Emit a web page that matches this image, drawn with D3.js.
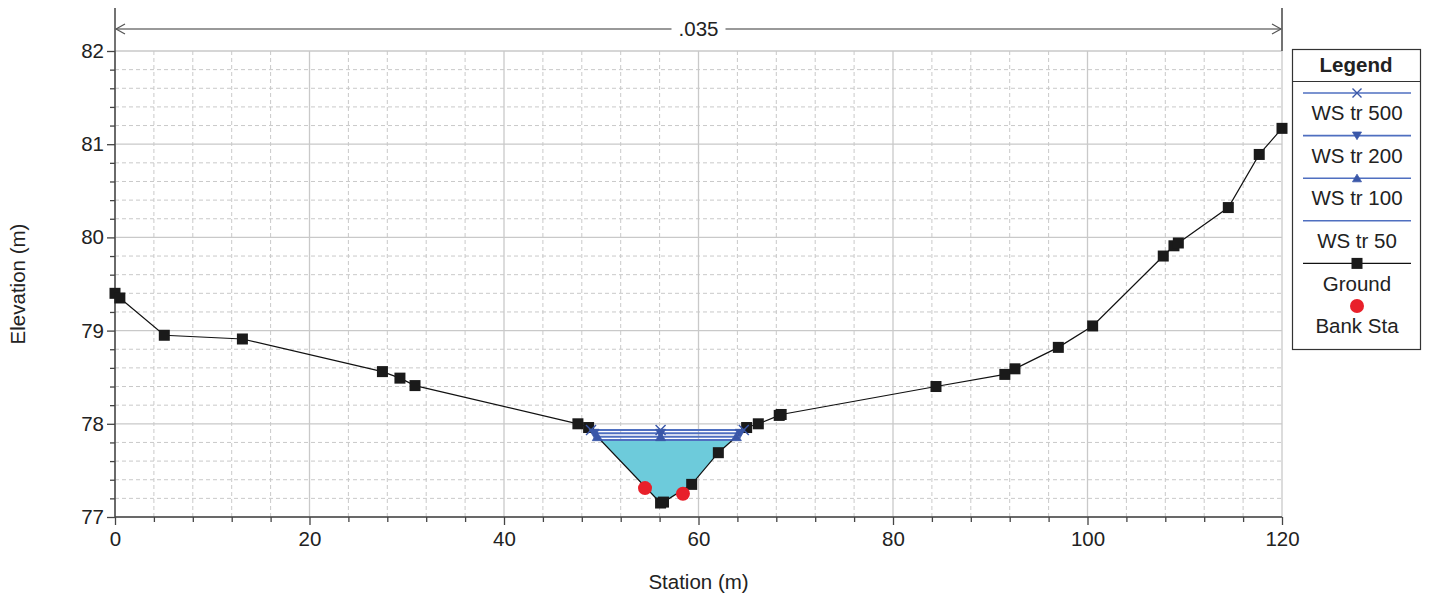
<!DOCTYPE html>
<html><head><meta charset="utf-8">
<script src="https://cdn.jsdelivr.net/npm/d3@7"></script>
<style>body{margin:0;background:#fff} text{font-family:"Liberation Sans",Arial,sans-serif;fill:#222}</style>
</head><body><svg id="c" width="1429" height="596"></svg>
<script>
const groundStation   = [0, 0.5, 5.07, 13.1, 27.5, 29.3, 30.85, 47.6, 48.7, 56.1, 56.4, 59.3, 62.04, 64.95, 66.15, 68.3, 68.5, 84.42, 91.5, 92.54, 97.0, 100.53, 107.79, 108.89, 109.34, 114.48, 117.66, 120];
const groundElevation = [79.40, 79.35, 78.95, 78.91, 78.56, 78.49, 78.41, 78.00, 77.96, 77.15, 77.16, 77.35, 77.69, 77.96, 78.00, 78.09, 78.10, 78.40, 78.53, 78.59, 78.82, 79.05, 79.80, 79.91, 79.94, 80.32, 80.89, 81.17];
const wsProfiles  = ["WS tr 500", "WS tr 200", "WS tr 100", "WS tr 50"];
const wsElevation = [77.933, 77.898, 77.862, 77.826];
const wsMarker    = ["x", "down", "up", "none"];
const bankStation   = [54.5, 58.4];
const bankElevation = [77.31, 77.25];
const xTicks = [0, 20, 40, 60, 80, 100, 120];
const yTicks = [77, 78, 79, 80, 81, 82];
const manningLabel = [".035"];
const legendLabels = ["WS tr 500", "WS tr 200", "WS tr 100", "WS tr 50", "Ground", "Bank Sta"];

const FONT = 20.5;
const svg = d3.select("#c");
const x = d3.scaleLinear([0, 120], [115, 1282]);
const y = d3.scaleLinear([77, 82], [517, 51]);
const gridCol = "#c9c9c9";
const blue = "#4f6fc0", blueDark = "#3a57a8";

// grid
const g = svg.append("g");
const xMinor = d3.range(0, 120.01, 4).filter(v => v % 20 !== 0);
const yMinor = d3.range(77, 82.001, 0.2).map(v => +v.toFixed(1)).filter(v => Math.abs(v - Math.round(v)) > 1e-6);
g.selectAll(".xm").data(xMinor).join("line").attr("x1", d => x(d)).attr("x2", d => x(d)).attr("y1", y(77)).attr("y2", y(82))
  .attr("stroke", gridCol).attr("stroke-dasharray", "4,3");
g.selectAll(".ym").data(yMinor).join("line").attr("y1", d => y(d)).attr("y2", d => y(d)).attr("x1", x(0)).attr("x2", x(120))
  .attr("stroke", gridCol).attr("stroke-dasharray", "4,3");
g.selectAll(".xM").data(xTicks).join("line").attr("x1", d => x(d)).attr("x2", d => x(d)).attr("y1", y(77)).attr("y2", y(82))
  .attr("stroke", gridCol).attr("stroke-width", 1.3);
g.selectAll(".yM").data(yTicks).join("line").attr("y1", d => y(d)).attr("y2", d => y(d)).attr("x1", x(0)).attr("x2", x(120))
  .attr("stroke", gridCol).attr("stroke-width", 1.3);

// axes
function styleAxis(sel) {
  sel.selectAll("path.domain").remove();
  sel.selectAll("line").attr("stroke", "#444").attr("stroke-width", 1.3);
  sel.selectAll("text").style("font-size", FONT + "px").attr("fill", "#222");
}
const ax = svg.append("g").attr("transform", `translate(0,${y(77)})`)
  .call(d3.axisBottom(x).tickValues(xTicks).tickSize(8).tickPadding(6).tickFormat(d3.format("d")));
styleAxis(ax);
const axm = svg.append("g").attr("transform", `translate(0,${y(77)})`)
  .call(d3.axisBottom(x).tickValues(xMinor).tickSize(5).tickFormat(""));
styleAxis(axm);
const ay = svg.append("g").attr("transform", `translate(${x(0)},0)`)
  .call(d3.axisLeft(y).tickValues(yTicks).tickSize(8).tickPadding(3).tickFormat(d3.format("d")));
styleAxis(ay);
const aym = svg.append("g").attr("transform", `translate(${x(0)},0)`)
  .call(d3.axisLeft(y).tickValues(yMinor).tickSize(5).tickFormat(""));
styleAxis(aym);
svg.append("line").attr("x1", x(0)).attr("x2", x(0)).attr("y1", 8).attr("y2", y(77)).attr("stroke", "#444").attr("stroke-width", 1.5);
svg.append("line").attr("x1", x(0)).attr("x2", x(120)).attr("y1", y(77)).attr("y2", y(77)).attr("stroke", "#444").attr("stroke-width", 1.5);
svg.append("line").attr("x1", x(120)).attr("x2", x(120)).attr("y1", 8).attr("y2", y(82)).attr("stroke", "#444").attr("stroke-width", 1.5);

// manning's n arrow
const ay0 = 29, cx = (x(0) + x(120)) / 2;
svg.append("line").attr("x1", x(0)).attr("x2", cx - 27).attr("y1", ay0).attr("y2", ay0).attr("stroke", "#777").attr("stroke-width", 1.3);
svg.append("line").attr("x1", cx + 27).attr("x2", x(120)).attr("y1", ay0).attr("y2", ay0).attr("stroke", "#777").attr("stroke-width", 1.3);
svg.append("path").attr("d", `M${x(0) + 10},${ay0 - 5}L${x(0) + 1},${ay0}L${x(0) + 10},${ay0 + 5}`).attr("fill", "none").attr("stroke", "#555").attr("stroke-width", 1.2);
svg.append("path").attr("d", `M${x(120) - 10},${ay0 - 5}L${x(120) - 1},${ay0}L${x(120) - 10},${ay0 + 5}`).attr("fill", "none").attr("stroke", "#555").attr("stroke-width", 1.2);
svg.append("text").attr("x", cx).attr("y", ay0).attr("dy", "0.35em").attr("text-anchor", "middle").style("font-size", FONT + "px").text(manningLabel[0]);

// ground helpers
const ground = groundStation.map((s, i) => [s, groundElevation[i]]);
const thal = d3.minIndex(groundElevation);
function intersections(e) {
  let L = null, R = null;
  for (let i = thal; i > 0; i--) {
    if (ground[i - 1][1] >= e) { const [s0, e0] = ground[i - 1], [s1, e1] = ground[i]; L = { s: s0 + (e - e0) / (e1 - e0) * (s1 - s0), i: i }; break; }
  }
  for (let i = thal; i < ground.length - 1; i++) {
    if (ground[i + 1][1] >= e) { const [s0, e0] = ground[i], [s1, e1] = ground[i + 1]; R = { s: s0 + (e - e0) / (e1 - e0) * (s1 - s0), i: i }; break; }
  }
  return [L, R];
}

// water fill (lowest profile)
const eLow = d3.min(wsElevation);
const [Lw, Rw] = intersections(eLow);
const poly = [[Lw.s, eLow], ...ground.slice(Lw.i, Rw.i + 1), [Rw.s, eLow]];
svg.append("path").attr("d", d3.line().x(d => x(d[0])).y(d => y(d[1]))(poly) + "Z").attr("fill", "#6dcbdb");

// WS lines
const wsData = wsElevation.map((e, k) => { const [L, R] = intersections(e); return { e, L: L.s, R: R.s, m: wsMarker[k] }; });
svg.selectAll(".ws").data(wsData).join("line").attr("x1", d => x(d.L)).attr("x2", d => x(d.R)).attr("y1", d => y(d.e)).attr("y2", d => y(d.e))
  .attr("stroke", blue).attr("stroke-width", 2);

// ground line & squares
svg.append("path").attr("d", d3.line().x(d => x(d[0])).y(d => y(d[1]))(ground)).attr("fill", "none").attr("stroke", "#111").attr("stroke-width", 1.2);
svg.selectAll(".gs").data(ground).join("rect").attr("x", d => x(d[0]) - 5.5).attr("y", d => y(d[1]) - 5.5).attr("width", 11).attr("height", 11).attr("fill", "#1a1a1a");

// WS markers
function markerPath(type, px, py, s) {
  if (type === "x") return `M${px - s},${py - s}L${px + s},${py + s}M${px - s},${py + s}L${px + s},${py - s}`;
  if (type === "down") return `M${px - s},${py - s * 0.8}L${px + s},${py - s * 0.8}L${px},${py + s * 0.9}Z`;
  if (type === "up") return `M${px - s},${py + s * 0.8}L${px + s},${py + s * 0.8}L${px},${py - s * 0.9}Z`;
  return "";
}
const midS = groundStation[thal];
wsData.forEach(d => {
  if (d.m === "none") return;
  [d.L, midS, d.R].forEach(s => {
    svg.append("path").attr("d", markerPath(d.m, x(s), y(d.e), 5))
      .attr("fill", d.m === "x" ? "none" : blueDark).attr("stroke", blueDark).attr("stroke-width", d.m === "x" ? 1.4 : 0.8);
  });
});

// bank stations
svg.selectAll(".bk").data(bankStation).join("circle").attr("cx", d => x(d)).attr("cy", (d, i) => y(bankElevation[i])).attr("r", 7).attr("fill", "#e8202a");

// axis titles
svg.append("text").attr("x", cx).attr("y", 582).attr("dy", "0.35em").attr("text-anchor", "middle").style("font-size", FONT + "px").text("Station (m)");
svg.append("text").attr("transform", `translate(18,284) rotate(-90)`).attr("dy", "0.35em").attr("text-anchor", "middle").style("font-size", FONT + "px").text("Elevation (m)");

// legend
const lg = svg.append("g");
lg.append("rect").attr("x", 1292.5).attr("y", 49.5).attr("width", 128).attr("height", 300).attr("fill", "#fff").attr("stroke", "#333").attr("stroke-width", 1.2);
lg.append("line").attr("x1", 1292.5).attr("x2", 1420.5).attr("y1", 81.5).attr("y2", 81.5).attr("stroke", "#333").attr("stroke-width", 1.2);
lg.append("text").attr("x", 1356).attr("y", 65).attr("dy", "0.35em").attr("text-anchor", "middle").style("font-size", FONT + "px").style("font-weight", "bold").text("Legend");
const lgSym = ["x", "down", "up", "none", "ground", "bank"];
legendLabels.forEach((lab, i) => {
  const ly = 93 + i * 42.6, lx1 = 1303, lx2 = 1411, mx = 1357;
  const t = lgSym[i];
  if (t === "bank") {
    lg.append("circle").attr("cx", mx).attr("cy", ly).attr("r", 7).attr("fill", "#e8202a");
  } else if (t === "ground") {
    lg.append("line").attr("x1", lx1).attr("x2", lx2).attr("y1", ly).attr("y2", ly).attr("stroke", "#111").attr("stroke-width", 1.2);
    lg.append("rect").attr("x", mx - 5.5).attr("y", ly - 5.5).attr("width", 11).attr("height", 11).attr("fill", "#1a1a1a");
  } else {
    lg.append("line").attr("x1", lx1).attr("x2", lx2).attr("y1", ly).attr("y2", ly).attr("stroke", blue).attr("stroke-width", 1.6);
    if (t !== "none") lg.append("path").attr("d", markerPath(t, mx, ly, 4.5)).attr("fill", t === "x" ? "none" : blueDark).attr("stroke", blueDark).attr("stroke-width", t === "x" ? 1.4 : 0.8);
  }
  lg.append("text").attr("x", mx).attr("y", ly + 20).attr("dy", "0.35em").attr("text-anchor", "middle").style("font-size", FONT + "px").text(lab);
});
</script></body></html>
